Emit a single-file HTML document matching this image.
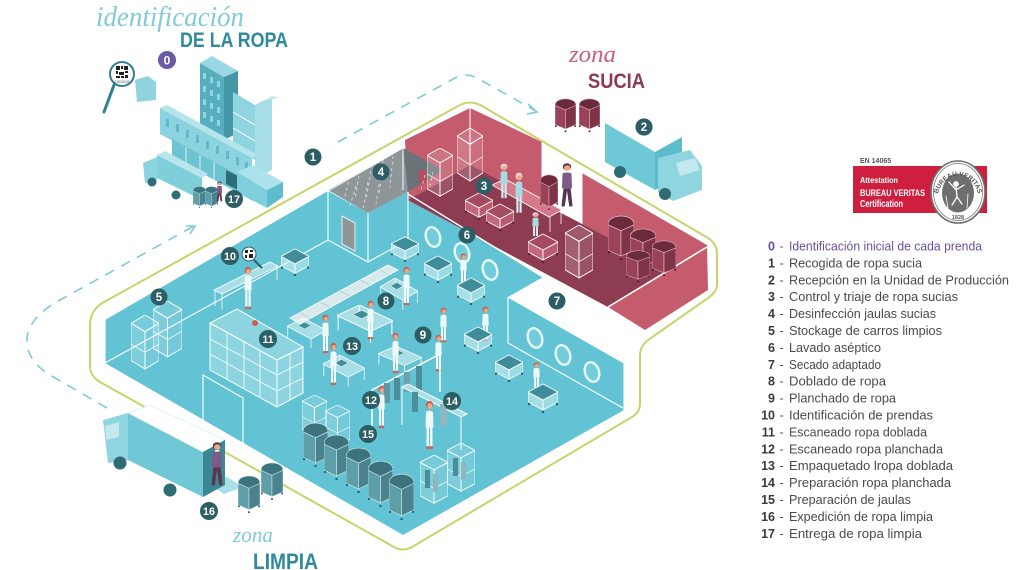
<!DOCTYPE html>
<html><head><meta charset="utf-8">
<style>
html,body{margin:0;padding:0;background:#fff;}
svg{display:block;}
text{font-family:"Liberation Sans",sans-serif;}
.sc{font-family:"Liberation Serif",serif;font-style:italic;}
</style></head>
<body>
<svg width="1024" height="570" viewBox="0 0 1024 570" xmlns="http://www.w3.org/2000/svg">
<defs>
 <symbol id="pw" viewBox="0 0 10 40" preserveAspectRatio="none">
  <circle cx="5" cy="4" r="3.3" fill="#c9614f"/>
  <circle cx="5.4" cy="5" r="2.4" fill="#eba78a"/>
  <path d="M1.8,9.5 Q5,7.5 8.2,9.5 L8.6,22 L1.4,22 Z" fill="#eef8f9"/>
  <rect x="2.3" y="22" width="2.2" height="15" fill="#f6fbfb"/>
  <rect x="5.5" y="22" width="2.2" height="15" fill="#f6fbfb"/>
  <rect x="2" y="37" width="2.8" height="2.2" fill="#c9614f"/>
  <rect x="5.3" y="37" width="2.8" height="2.2" fill="#c9614f"/>
 </symbol>
 <symbol id="pr" viewBox="0 0 10 40" preserveAspectRatio="none">
  <circle cx="5" cy="4" r="3.4" fill="#f0d6d6"/>
  <circle cx="5.4" cy="5.3" r="2.3" fill="#eba78a"/>
  <path d="M1.8,9.5 Q5,7.5 8.2,9.5 L8.6,22 L1.4,22 Z" fill="#a6dbe3"/>
  <rect x="2.3" y="22" width="2.2" height="15" fill="#cfeef2"/>
  <rect x="5.5" y="22" width="2.2" height="15" fill="#cfeef2"/>
 </symbol>
 <symbol id="pm" viewBox="0 0 10 40" preserveAspectRatio="none">
  <circle cx="5" cy="4" r="3" fill="#5a3a4a"/>
  <circle cx="5.2" cy="5" r="2.3" fill="#eba78a"/>
  <rect x="3.6" y="7.5" width="3" height="4" fill="#fff"/>
  <path d="M1.8,9.5 Q5,8 8.2,9.5 L8.6,22 L1.4,22 Z" fill="#7d5b88"/>
  <path d="M2.5,22 L1,37 L3.4,37 L5,24 L6.6,37 L9,37 L7.6,22Z" fill="#5b3550"/>
 </symbol>
 <symbol id="ct" viewBox="0 0 30 30" preserveAspectRatio="none">
  <path d="M0,9 L15,17 L15,27 L0,19Z" fill="#dff4f7" fill-opacity=".55" stroke="#fff" stroke-width=".9"/>
  <path d="M15,17 L30,9 L30,19 L15,27Z" fill="#cbeef3" fill-opacity=".55" stroke="#fff" stroke-width=".9"/>
  <path d="M0,9 L15,1 L30,9 L15,17Z" fill="#3f8d9a" stroke="#fff" stroke-width=".9"/>
  <circle cx="1" cy="21" r="1.3" fill="#2d5e66"/><circle cx="15" cy="29" r="1.3" fill="#2d5e66"/><circle cx="29" cy="21" r="1.3" fill="#2d5e66"/>
 </symbol>
 <symbol id="ctr" viewBox="0 0 30 30" preserveAspectRatio="none">
  <path d="M0,9 L15,17 L15,27 L0,19Z" fill="#d87a8b" fill-opacity=".7" stroke="#fff" stroke-width=".9"/>
  <path d="M15,17 L30,9 L30,19 L15,27Z" fill="#cc6a7c" fill-opacity=".7" stroke="#fff" stroke-width=".9"/>
  <path d="M0,9 L15,1 L30,9 L15,17Z" fill="#a54a60" stroke="#fff" stroke-width=".9"/>
  <circle cx="1" cy="21" r="1.3" fill="#5a2234"/><circle cx="15" cy="29" r="1.3" fill="#5a2234"/><circle cx="29" cy="21" r="1.3" fill="#5a2234"/>
 </symbol>
 <symbol id="cg" viewBox="0 0 30 54" preserveAspectRatio="none">
  <path d="M0,8 L15,16 L15,52 L0,44Z" fill="#fff" fill-opacity=".18" stroke="#fff" stroke-width=".9"/>
  <path d="M15,16 L30,8 L30,44 L15,52Z" fill="#fff" fill-opacity=".12" stroke="#fff" stroke-width=".9"/>
  <path d="M0,8 L15,0 L30,8 L15,16Z" fill="#fff" fill-opacity=".15" stroke="#fff" stroke-width=".9"/>
  <path d="M0,28 L15,36 L30,28" fill="none" stroke="#fff" stroke-width=".7"/>
 </symbol>
 <symbol id="bt" viewBox="0 0 26 46" preserveAspectRatio="none">
  <path d="M0,10 L13,16 L13,42 L0,36Z" fill="#5e9ea9" stroke="#d6eef2" stroke-width=".6"/>
  <path d="M13,16 L26,10 L26,36 L13,42Z" fill="#4a838e" stroke="#d6eef2" stroke-width=".6"/>
  <path d="M0,10 Q0,2 13,1 Q26,2 26,10 L13,16Z" fill="#3d737d" stroke="#d6eef2" stroke-width=".6"/>
  <circle cx="1" cy="38" r="1.2" fill="#2d5e66"/><circle cx="13" cy="45" r="1.2" fill="#2d5e66"/><circle cx="25" cy="38" r="1.2" fill="#2d5e66"/>
 </symbol>
 <symbol id="br" viewBox="0 0 26 46" preserveAspectRatio="none">
  <path d="M0,10 L13,16 L13,42 L0,36Z" fill="#9a4258" stroke="#f1c9d1" stroke-width=".6"/>
  <path d="M13,16 L26,10 L26,36 L13,42Z" fill="#7e3347" stroke="#f1c9d1" stroke-width=".6"/>
  <path d="M0,10 Q0,2 13,1 Q26,2 26,10 L13,16Z" fill="#6c2a3d" stroke="#f1c9d1" stroke-width=".6"/>
  <circle cx="1" cy="38" r="1.2" fill="#4a1a2a"/><circle cx="13" cy="45" r="1.2" fill="#4a1a2a"/><circle cx="25" cy="38" r="1.2" fill="#4a1a2a"/>
 </symbol>
 <symbol id="tb" viewBox="0 0 50 36" preserveAspectRatio="none">
  <path d="M0,10 L20,0 L50,15 L30,25Z" fill="#e3f5f8" fill-opacity=".55" stroke="#fff" stroke-width=".9"/>
  <path d="M1,10 L1,24 M30,25 L30,36 M49,15 L49,28 M20,1 L20,12" stroke="#fff" stroke-width=".9"/>
  <path d="M14,9 L22,5 L30,9 L22,13Z" fill="#3f8d9a" stroke="#fff" stroke-width=".5"/>
 </symbol>
</defs>

<!-- dashed routes -->
<g fill="none" stroke="#7ccbd8" stroke-width="1.6">
 <path d="M338,142 L455,78 Q466,72 477,78 L536,111" stroke-dasharray="10 8"/>
 <path d="M528,104 L537,112 L527,114"/>
 <path d="M107,408 L50,375 Q22,358 28,332 Q34,314 60,300 L194,226" stroke-dasharray="10 8"/>
 <path d="M186,226 L195,226 L190,234"/>
</g>

<!-- green outline -->
<path d="M90,325 Q90,310 104,302 L458,106 Q470,99 482,106 L708,238 Q717,244 717,254 L717,284 Q717,292 708,298 L648,340 Q640,346 640,356 L640,404 Q640,412 632,417 L412,547 Q403,552 394,547 L100,382 Q90,376 90,366 Z" fill="none" stroke="#c6d56b" stroke-width="2"/>

<!-- cyan floor -->
<path d="M105,320 L328,191 L368,213 L408,192 L543,277 L508,297 L624,363 L624,410 L403,535 L105,363 Z" fill="#61c3d3"/>

<!-- red zone -->
<path d="M405,140 L470,108 L542,142 L542,203 L582,224 L582,173 L707,245 L708,290 L645,330 L608,307 L408,200 Z" fill="#c45c6e"/>
<path d="M408,200 L443,181 L470,165 L542,203 L582,224 L670,270 L608,307 Z" fill="#8e3c51"/>
<g stroke="#fff" stroke-width="1" fill="none">
 <path d="M470,108 L470,165"/>
 <path d="M542,142 L542,203 M582,173 L582,224"/>
 <path d="M608,307 L707,247" stroke-width="1.6"/>
 <path d="M408,194 L543,277" stroke-width="1.4"/>
</g>

<!-- gray room -->
<path d="M328,190 L403,148 L408,192 L368,213 Z" fill="#8e9699"/>
<path d="M403,148 L443,170 L408,192 Z" fill="#6c7376"/>
<rect x="419" y="170" width="7" height="13" fill="#b84c60"/>
<g stroke="#fff" stroke-width=".8" stroke-opacity=".75" stroke-dasharray="3 3">
 <path d="M350,176 L344,200 M360,170 L355,198 M372,165 L366,200 M383,160 L379,195 M393,156 L390,188 M356,186 L350,206 M368,182 L363,208 M380,178 L376,204 M425,175 L421,190 M433,172 L430,186"/>
</g>
<path d="M328,191 L403,148 L403,190" fill="none" stroke="#fff" stroke-width="1"/>

<!-- cyan walls -->
<g stroke="#fff" stroke-width="1.1" fill="none">
 <path d="M105,320 L105,363 L328,240 L368,262 L408,240"/>
 <path d="M328,191 L328,240 M368,213 L368,262 M408,192 L408,240"/>
 <path d="M508,297 L624,363 L624,410 M508,297 L508,343 L623,408"/>
 <path d="M203,422 L203,375 L243,398 L243,447"/>
</g>
<path d="M342,216 L355,223 L355,251 L342,244Z" fill="#8e9699" stroke="#fff" stroke-width=".8"/>

<!-- portholes -->
<g fill="#72cddb" stroke="#e8f8fa" stroke-width="2.4">
 <ellipse cx="433" cy="237" rx="7" ry="10" transform="rotate(-18 433 237)"/>
 <ellipse cx="462" cy="253" rx="7" ry="10" transform="rotate(-18 462 253)"/>
 <ellipse cx="490" cy="270" rx="7" ry="10" transform="rotate(-18 490 270)"/>
 <ellipse cx="535" cy="338" rx="7" ry="10" transform="rotate(-18 535 338)"/>
 <ellipse cx="563" cy="355" rx="7" ry="10" transform="rotate(-18 563 355)"/>
 <ellipse cx="592" cy="372" rx="7" ry="10" transform="rotate(-18 592 372)"/>
</g>

<!-- red zone items -->
<use href="#cg" x="427" y="148" width="26" height="50"/>
<use href="#cg" x="457" y="128" width="26" height="55"/>
<use href="#cg" x="565" y="225" width="28" height="55"/>
<path d="M492,185 L505,179 L562,210 L549,217 Z" fill="#d47a8a" stroke="#fff" stroke-width=".8"/>
<path d="M550,217 L550,232 M561,211 L561,224" stroke="#fff" stroke-width=".8"/>
<use href="#pr" x="499" y="163" width="10" height="38"/>
<use href="#pr" x="514" y="172" width="10" height="44"/>
<use href="#ctr" x="465" y="192" width="28" height="28"/>
<use href="#ctr" x="486" y="203" width="28" height="28"/>
<use href="#pr" x="531" y="212" width="9" height="26"/>
<use href="#ctr" x="528" y="233" width="30" height="30"/>
<use href="#br" x="540" y="174" width="18" height="36"/>
<use href="#pm" x="560" y="162" width="14" height="48"/>
<use href="#br" x="608" y="215" width="26" height="45"/>
<use href="#br" x="630" y="228" width="26" height="42"/>
<use href="#br" x="652" y="240" width="24" height="36"/>
<use href="#br" x="626" y="250" width="24" height="32"/>
<use href="#br" x="555" y="98" width="21" height="34"/>
<use href="#br" x="579" y="98" width="21" height="34"/>

<!-- cyan area items -->
<use href="#cg" x="131" y="315" width="28" height="56"/>
<use href="#cg" x="153" y="301" width="29" height="58"/>
<path d="M214,290 L270,262 L278,266 L222,294 Z" fill="#a8dee7" stroke="#fff" stroke-width=".8"/>
<path d="M215,291 L215,306 M222,294 L222,309 M277,266 L277,280" stroke="#fff" stroke-width=".8"/>
<use href="#pw" x="243" y="266" width="10" height="44"/>
<circle cx="249" cy="254" r="7" fill="#fff" stroke="#2d5e66" stroke-width="1"/>
<path d="M245,250h3v3h-3zM250,250h3v2h-3zM245,255h2v3h-2zM249,254h4v4h-4z" fill="#222"/>
<path d="M254,260 L262,268" stroke="#2d5e66" stroke-width="2"/>
<use href="#ct" x="281" y="248" width="28" height="28"/>
<use href="#ct" x="391" y="236" width="28" height="26"/>
<use href="#ct" x="424" y="255" width="28" height="28"/>
<use href="#pw" x="459" y="253" width="9" height="32"/>
<use href="#ct" x="457" y="277" width="28" height="28"/>
<path d="M290,318 L388,265 L398,270 L300,324 Z" fill="#d9eaed" stroke="#fff" stroke-width=".8"/>
<path d="M300,313 L310,318 M320,302 L330,307 M340,291 L350,296 M360,280 L370,285 M380,270 L389,275" stroke="#b9d3d8" stroke-width="1"/>
<use href="#tb" x="380" y="278" width="38" height="32"/>
<use href="#pw" x="402" y="266" width="9" height="40"/>
<use href="#tb" x="337" y="305" width="56" height="38"/>
<use href="#pw" x="366" y="300" width="9" height="40"/>
<use href="#tb" x="287" y="318" width="40" height="30"/>
<use href="#pw" x="321" y="314" width="9" height="40"/>
<use href="#tb" x="323" y="355" width="42" height="32"/>
<use href="#pw" x="329" y="342" width="9" height="44"/>
<use href="#tb" x="378" y="346" width="44" height="28"/>
<use href="#pw" x="391" y="332" width="9" height="42"/>
<use href="#pw" x="439" y="307" width="9" height="36"/>
<use href="#pw" x="434" y="334" width="9" height="38"/>
<use href="#pw" x="481" y="306" width="9" height="36"/>
<use href="#ct" x="464" y="326" width="28" height="28"/>
<use href="#ct" x="495" y="354" width="28" height="28"/>
<use href="#pw" x="532" y="362" width="9" height="28"/>
<use href="#ct" x="528" y="383" width="30" height="30"/>

<!-- shelving 11 -->
<g stroke="#fff" stroke-width="1" fill="#bfe9f0" fill-opacity=".45">
 <path d="M210,323 L237,309 L303,347 L277,360 Z"/>
 <path d="M210,323 L277,360 L277,407 L210,370 Z"/>
 <path d="M277,360 L303,347 L303,393 L277,407 Z"/>
</g>
<path d="M210,339 L277,375 L303,362 M210,354 L277,391 L303,378 M227,332 L227,379 M244,341 L244,388 M260,351 L260,398 M290,353 L290,400" stroke="#fff" stroke-width=".8" fill="none"/>
<circle cx="255" cy="323" r="3" fill="#c9614f"/>

<!-- racks -->
<path d="M372,428 L372,390 L440,354 L440,392" fill="none" stroke="#fff" stroke-width="1.5"/>
<rect x="384" y="383" width="6" height="20" fill="#5d99a4"/>
<rect x="394" y="378" width="6" height="22" fill="#4b8d99"/>
<rect x="404" y="372" width="6" height="20" fill="#6aa3ad"/>
<rect x="416" y="366" width="6" height="24" fill="#4b8d99"/>
<use href="#pw" x="377" y="385" width="9" height="44"/>
<path d="M402,387 L408,384 L467,414 L461,417 Z M402,387 L402,425 M461,417 L461,450" fill="#a9dfe8" stroke="#fff" stroke-width="1"/>
<rect x="412" y="392" width="6" height="20" fill="#4b8d99"/>
<rect x="440" y="404" width="7" height="22" fill="#8fb7be"/>
<use href="#pw" x="424" y="400" width="11" height="50"/>
<use href="#cg" x="420" y="455" width="28" height="50"/>
<use href="#cg" x="447" y="443" width="28" height="50"/>
<rect x="425" y="470" width="5" height="18" fill="#4b8d99"/><rect x="433" y="474" width="5" height="18" fill="#8fb7be"/>
<rect x="453" y="458" width="5" height="18" fill="#4b8d99"/><rect x="461" y="462" width="5" height="18" fill="#8fb7be"/>

<!-- cages + bins 15 -->
<use href="#cg" x="302" y="395" width="25" height="42"/>
<use href="#cg" x="325" y="405" width="25" height="42"/>
<use href="#bt" x="303" y="422" width="25" height="45"/>
<use href="#bt" x="324" y="434" width="25" height="46"/>
<use href="#bt" x="346" y="447" width="25" height="46"/>
<use href="#bt" x="368" y="460" width="25" height="47"/>
<use href="#bt" x="389" y="473" width="25" height="47"/>

<!-- bottom truck 16 -->
<path d="M208,483 L227,477 L243,487 L224,494 Z" fill="#a9dfe8"/>
<path d="M128,413 L203,452 L203,497 L128,460 Z" fill="#70c7d5"/>
<path d="M128,413 L150,405 L225,440 L203,452 Z" fill="#ffffff" stroke="#d6f0f4" stroke-width=".8"/>
<path d="M203,452 L225,440 L225,485 L203,497 Z" fill="#3d8795"/>
<path d="M103,420 L128,413 L128,460 L108,463 Z" fill="#8fd5e0"/>
<path d="M105,426 L119,422 L119,437 L106,440 Z" fill="#c3e9ef"/>
<circle cx="120" cy="463" r="6.5" fill="#2f6b73"/>
<circle cx="170" cy="490" r="6.5" fill="#2f6b73"/>
<use href="#pm" x="210" y="441" width="14" height="48"/>
<use href="#bt" x="238" y="475" width="22" height="38"/>
<use href="#bt" x="261" y="462" width="22" height="38"/>

<!-- building -->
<path d="M200,63 L224,77 L224,140 L200,126 Z" fill="#57aebf"/>
<path d="M200,63 L212,56 L238,71 L224,77 Z" fill="#9ad8e3"/>
<path d="M224,77 L238,71 L238,133 L224,140 Z" fill="#4596a7"/>
<g fill="#8fd6e2">
 <rect x="203" y="73" width="3" height="6"/><rect x="203" y="86" width="3" height="6"/><rect x="203" y="99" width="3" height="6"/><rect x="203" y="112" width="3" height="6"/>
 <rect x="210" y="77" width="3" height="6"/><rect x="210" y="90" width="3" height="6"/><rect x="210" y="103" width="3" height="6"/><rect x="210" y="116" width="3" height="6"/>
 <rect x="217" y="81" width="3" height="6"/><rect x="217" y="94" width="3" height="6"/><rect x="217" y="107" width="3" height="6"/><rect x="217" y="120" width="3" height="6"/>
</g>
<path d="M233,92 L255,105 L255,160 L233,147 Z" fill="#8ed5e0"/>
<path d="M233,112 L255,125 M233,128 L255,141" stroke="#fff" stroke-width="1"/>
<path d="M255,105 L272,96 L272,170 L255,178 Z" fill="#a6dde7"/>
<path d="M255,105 L262,101 L279,98 L272,96 Z" fill="#c4ebf1"/>
<path d="M160,108 L167,105 L258,155 L252,158 Z" fill="#b4e4ec"/>
<path d="M160,108 L252,158 L252,184 L160,134 Z" fill="#8ad3df"/>
<g fill="#5fb9ca">
 <rect x="166" y="119" width="3" height="8"/><rect x="176" y="124" width="3" height="8"/><rect x="186" y="130" width="3" height="8"/><rect x="196" y="135" width="3" height="8"/><rect x="206" y="141" width="3" height="8"/><rect x="216" y="146" width="3" height="8"/><rect x="226" y="151" width="3" height="8"/><rect x="236" y="157" width="3" height="8"/><rect x="245" y="162" width="3" height="8"/>
</g>
<path d="M172,139 L253,183 L253,201 L172,157 Z" fill="#6cc3d2"/>
<path d="M186,147 L186,165 M200,155 L200,173 M214,162 L214,180" stroke="#fff" stroke-width=".8"/>
<path d="M226,170 L238,176 L238,190 L226,184 Z" fill="#2f6e78"/>
<path d="M237,172 L253,165 L283,182 L267,190 Z" fill="#aee2ea"/>
<path d="M237,172 L267,190 L267,208 L237,192 Z" fill="#7fcfdc"/>
<path d="M267,190 L283,182 L283,197 L267,208 Z" fill="#5fbccc"/>

<!-- top-left truck 17 -->
<path d="M157,155 L202,178 L202,200 L157,178 Z" fill="#7fcfdb"/>
<path d="M157,155 L165,151 L208,174 L202,178 Z" fill="#b6e5ec"/>
<path d="M143,163 L157,157 L157,180 L145,183 Z" fill="#8ad3df"/>
<circle cx="152" cy="182" r="4.5" fill="#2f6e78"/>
<circle cx="176" cy="195" r="4.5" fill="#2f6e78"/>
<use href="#bt" x="193" y="186" width="13" height="22"/>
<use href="#bt" x="205" y="186" width="13" height="22"/>
<use href="#pm" x="216" y="181" width="7" height="22"/>

<!-- magnifier 0 -->
<path d="M135,80 L148,76 L156,82 L156,100 L137,102 Z" fill="#8fd3de"/>
<circle cx="122" cy="74" r="12" fill="#fff" stroke="#2f7f8f" stroke-width="2"/>
<g fill="#222"><rect x="116" y="66" width="4" height="4"/><rect x="121" y="66" width="2" height="3"/><rect x="124" y="66" width="4" height="4"/><rect x="116" y="71" width="2" height="3"/><rect x="119" y="72" width="5" height="3"/><rect x="125" y="71" width="3" height="2"/><rect x="116" y="76" width="4" height="2"/><rect x="121" y="76" width="3" height="2"/><rect x="125" y="75" width="3" height="3"/></g>
<text x="122" y="83" font-size="3.5" text-anchor="middle" fill="#444">01010101</text>
<path d="M114,85 L104,112" stroke="#2f7f8f" stroke-width="3" stroke-linecap="round"/>

<!-- titles -->
<text class="sc" x="96" y="26" font-size="28" fill="#80cbd8" textLength="148" lengthAdjust="spacingAndGlyphs">identificación</text>
<text x="180" y="47" font-size="21" font-weight="bold" fill="#2f8a9c" textLength="108" lengthAdjust="spacingAndGlyphs">DE LA ROPA</text>
<text class="sc" x="569" y="62" font-size="24" fill="#c8607a" textLength="47" lengthAdjust="spacingAndGlyphs">zona</text>
<text x="588" y="88" font-size="21" font-weight="bold" fill="#8b3a50" textLength="57" lengthAdjust="spacingAndGlyphs">SUCIA</text>
<text class="sc" x="233" y="542" font-size="22" fill="#80cbd8" textLength="40" lengthAdjust="spacingAndGlyphs">zona</text>
<text x="253" y="569" font-size="22" font-weight="bold" fill="#2f8a9c" textLength="65" lengthAdjust="spacingAndGlyphs">LIMPIA</text>

<!-- number markers -->
<g font-weight="bold" text-anchor="middle" fill="#fff">
 <circle cx="167" cy="60" r="9" fill="#6b5aa6"/><text x="167" y="64.5" font-size="12">0</text>
 <g fill="#2d5e66">
  <circle cx="313" cy="157" r="8.5"/><circle cx="644" cy="127" r="8.5"/><circle cx="484" cy="186" r="8.5"/><circle cx="381" cy="172" r="8.5"/>
  <circle cx="159" cy="297" r="8.5"/><circle cx="467" cy="235" r="8.5"/><circle cx="557" cy="301" r="8.5"/><circle cx="386" cy="301" r="8.5"/>
  <circle cx="423" cy="335" r="8.5"/><circle cx="230" cy="256" r="9"/><circle cx="268" cy="339" r="9"/><circle cx="371" cy="400" r="9"/>
  <circle cx="352" cy="346" r="9"/><circle cx="452" cy="401" r="9"/><circle cx="368" cy="434" r="9"/><circle cx="209" cy="511" r="9"/><circle cx="234" cy="199" r="9"/>
 </g>
 <g font-size="11.5">
  <text x="313" y="161">1</text><text x="644" y="131">2</text><text x="484" y="190">3</text><text x="381" y="176">4</text>
  <text x="159" y="301">5</text><text x="467" y="239">6</text><text x="557" y="305">7</text><text x="386" y="305">8</text>
  <text x="423" y="339">9</text>
 </g>
 <g font-size="11">
  <text x="230" y="260" textLength="12" lengthAdjust="spacingAndGlyphs">10</text>
  <text x="268" y="343" textLength="11" lengthAdjust="spacingAndGlyphs">11</text>
  <text x="371" y="404" textLength="12" lengthAdjust="spacingAndGlyphs">12</text>
  <text x="352" y="350" textLength="12" lengthAdjust="spacingAndGlyphs">13</text>
  <text x="452" y="405" textLength="12" lengthAdjust="spacingAndGlyphs">14</text>
  <text x="368" y="438" textLength="12" lengthAdjust="spacingAndGlyphs">15</text>
  <text x="209" y="515" textLength="12" lengthAdjust="spacingAndGlyphs">16</text>
  <text x="234" y="203" textLength="12" lengthAdjust="spacingAndGlyphs">17</text>
 </g>
</g>

<!-- certification badge -->
<text x="860" y="163" font-size="7" font-weight="bold" fill="#555">EN 14065</text>
<rect x="853" y="166" width="134" height="47" fill="#cf1f3f"/>
<text x="860" y="183" font-size="8.5" font-weight="bold" fill="#fff" textLength="38" lengthAdjust="spacingAndGlyphs">Attestation</text>
<text x="860" y="196" font-size="9" font-weight="bold" fill="#fff" textLength="65" lengthAdjust="spacingAndGlyphs">BUREAU VERITAS</text>
<text x="860" y="207" font-size="10" font-weight="bold" fill="#fff" textLength="43" lengthAdjust="spacingAndGlyphs">Certification</text>
<ellipse cx="958" cy="192" rx="27" ry="31" fill="#fff" stroke="#6d6d6d" stroke-width="1.6"/>
<ellipse cx="958" cy="192" rx="24.5" ry="28.5" fill="none" stroke="#6d6d6d" stroke-width=".7"/>
<ellipse cx="958" cy="193" rx="16" ry="19.5" fill="#6e6e6e"/>
<path id="arcBV" d="M937,201 A21,25 0 1,1 979,201" fill="none"/>
<text font-size="6.5" font-weight="bold" fill="#555"><textPath href="#arcBV" startOffset="50%" text-anchor="middle">BUREAU VERITAS</textPath></text>
<text x="958" y="219" font-size="5.5" font-weight="bold" fill="#555" text-anchor="middle">1828</text>
<g stroke="#fff" stroke-width="1.3" fill="none" stroke-linecap="round">
 <circle cx="956" cy="184" r="2.2" fill="#fff"/>
 <path d="M956,187 L957,197 M957,197 L952,205 M957,197 L962,204 M956,190 L949,182 M956,190 L964,185"/>
 <path d="M946,196 L948,208 M968,194 L967,208" stroke-width=".8"/>
</g>

<!-- legend -->
<g font-size="12.5">
 <g font-weight="bold" fill="#3a3a3a" text-anchor="end">
  <text x="775" y="250.5" fill="#6b4fa0">0</text>
  <text x="775" y="267.4">1</text><text x="775" y="284.3">2</text><text x="775" y="301.2">3</text><text x="775" y="318.1">4</text>
  <text x="775" y="335">5</text><text x="775" y="351.9">6</text><text x="775" y="368.8">7</text><text x="775" y="385.7">8</text>
  <text x="775" y="402.6">9</text><text x="775" y="419.5">10</text><text x="775" y="436.4">11</text><text x="775" y="453.3">12</text>
  <text x="775" y="470.2">13</text><text x="775" y="487.1">14</text><text x="775" y="504">15</text><text x="775" y="520.9">16</text>
  <text x="775" y="537.8">17</text>
 </g>
 <g fill="#555">
  <text x="779.5" y="250.5" fill="#6b4fa0">-</text>
  <text x="779.5" y="267.4">-</text><text x="779.5" y="284.3">-</text><text x="779.5" y="301.2">-</text><text x="779.5" y="318.1">-</text>
  <text x="779.5" y="335">-</text><text x="779.5" y="351.9">-</text><text x="779.5" y="368.8">-</text><text x="779.5" y="385.7">-</text>
  <text x="779.5" y="402.6">-</text><text x="779.5" y="419.5">-</text><text x="779.5" y="436.4">-</text><text x="779.5" y="453.3">-</text>
  <text x="779.5" y="470.2">-</text><text x="779.5" y="487.1">-</text><text x="779.5" y="504">-</text><text x="779.5" y="520.9">-</text>
  <text x="779.5" y="537.8">-</text>
 </g>
 <g fill="#4a4a4a">
  <text x="789" y="250.5" fill="#6b4fa0" textLength="193" lengthAdjust="spacingAndGlyphs">Identificación inicial de cada prenda</text>
  <text x="789" y="267.4" textLength="133" lengthAdjust="spacingAndGlyphs">Recogida de ropa sucia</text>
  <text x="789" y="284.3" textLength="220" lengthAdjust="spacingAndGlyphs">Recepción en la Unidad de Producción</text>
  <text x="789" y="301.2" textLength="169" lengthAdjust="spacingAndGlyphs">Control y triaje de ropa sucias</text>
  <text x="789" y="318.1" textLength="147" lengthAdjust="spacingAndGlyphs">Desinfección jaulas sucias</text>
  <text x="789" y="335" textLength="153" lengthAdjust="spacingAndGlyphs">Stockage de carros limpios</text>
  <text x="789" y="351.9" textLength="92" lengthAdjust="spacingAndGlyphs">Lavado aséptico</text>
  <text x="789" y="368.8" textLength="92" lengthAdjust="spacingAndGlyphs">Secado adaptado</text>
  <text x="789" y="385.7" textLength="97" lengthAdjust="spacingAndGlyphs">Doblado de ropa</text>
  <text x="789" y="402.6" textLength="107" lengthAdjust="spacingAndGlyphs">Planchado de ropa</text>
  <text x="789" y="419.5" textLength="144" lengthAdjust="spacingAndGlyphs">Identificación de prendas</text>
  <text x="789" y="436.4" textLength="138" lengthAdjust="spacingAndGlyphs">Escaneado ropa doblada</text>
  <text x="789" y="453.3" textLength="154" lengthAdjust="spacingAndGlyphs">Escaneado ropa planchada</text>
  <text x="789" y="470.2" textLength="164" lengthAdjust="spacingAndGlyphs">Empaquetado lropa doblada</text>
  <text x="789" y="487.1" textLength="162" lengthAdjust="spacingAndGlyphs">Preparación ropa planchada</text>
  <text x="789" y="504" textLength="122" lengthAdjust="spacingAndGlyphs">Preparación de jaulas</text>
  <text x="789" y="520.9" textLength="144" lengthAdjust="spacingAndGlyphs">Expedición de ropa limpia</text>
  <text x="789" y="537.8" textLength="133" lengthAdjust="spacingAndGlyphs">Entrega de ropa limpia</text>
 </g>
</g>

<!-- truck 2 -->
<path d="M605,123 L655,152 L655,190 L605,162 Z" fill="#6fc8d6"/>
<path d="M655,152 L682,137 L682,175 L655,190 Z" fill="#5dbccb"/>
<path d="M658,158 L690,150 L702,166 L702,190 L673,201 L658,192 Z" fill="#8fd5e0"/>
<path d="M676,163 L695,158 L700,170 L680,176 Z" fill="#c3e9ef"/>
<circle cx="620" cy="172" r="6" fill="#2f6b73"/>
<circle cx="665" cy="194" r="6" fill="#2f6b73"/>
<circle cx="644" cy="127" r="8.5" fill="#2d5e66"/>
<text x="644" y="131" font-size="11.5" font-weight="bold" fill="#fff" text-anchor="middle">2</text>
</svg>
</body></html>
